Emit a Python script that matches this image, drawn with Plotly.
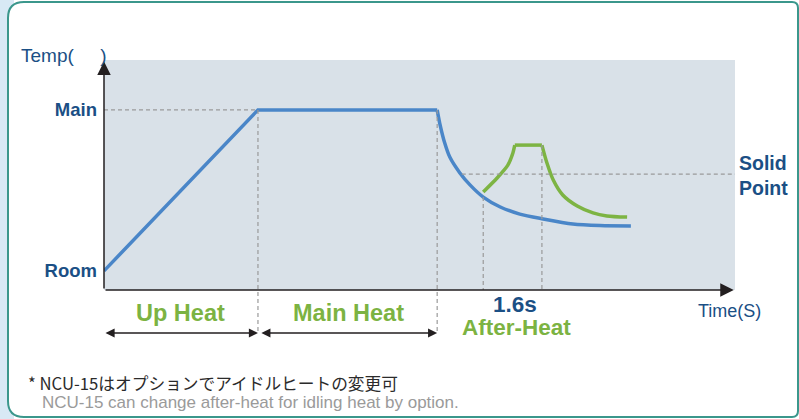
import plotly.graph_objects as go

# ---------------- data (arbitrary units: time 0-100, temperature 0-100) ----------------
ramp_x = [0, 24.4, 52.8]
ramp_y = [8.3, 78.3, 78.3]

cool_x = [52.8, 53.2, 54.0, 54.8, 56.4, 58.0, 60.1, 62.8, 65.9, 69.6, 74.3, 78.6, 83.5]
cool_y = [78.3, 72.6, 63.9, 57.8, 50.9, 45.7, 40.4, 36.1, 33.0, 30.9, 28.7, 28.0, 27.8]

after_rise_x = [60.1, 62.3, 64.0, 64.8, 65.1]
after_rise_y = [42.6, 48.7, 54.3, 59.6, 63.0]
after_flat_x = [65.1, 69.4]
after_flat_y = [63.0, 63.0]
after_fall_x = [69.4, 70.2, 71.2, 72.7, 75.0, 77.5, 79.7, 82.9]
after_fall_y = [63.0, 55.2, 47.8, 41.3, 36.5, 33.5, 32.2, 31.7]

room_level = 8.3
main_level = 78.3
solid_level = 50.4
up_end = 24.4
main_end = 52.8
after_start = 60.1
after_start_y = 40.4
after_peak_end = 69.4
after_peak_y = 63.0
solid_from = 56.7

tick_vals = [room_level, main_level]
tick_text = ["<b>Room</b>", "<b>Main</b>"]

phase_labels = ["Up Heat", "Main Heat"]
phase_centers = [12.2, 38.7]
phase_bounds = [(0, up_end), (up_end + 0.3, main_end)]

# ---------------- styling ----------------
BLUE = "#4a86c8"
GREEN = "#7db443"
TXT_BLUE = "#1b4f85"
GREEN_TXT = "#7cb342"
DASH = "#9a9a9a"
AXIS = "#231f20"
FONT = "Liberation Sans, Arial, sans-serif"

W, H = 799, 419
ML, MR, MT, MB = 104, 64, 60, 0
PX_PER_Y = 230 / 100.0
Y_MIN = -(H - 290) / PX_PER_Y

fig = go.Figure()

line_style = dict(width=3.5)
fig.add_trace(go.Scatter(x=ramp_x, y=ramp_y, mode="lines", line=dict(color=BLUE, **line_style)))
fig.add_trace(go.Scatter(x=cool_x, y=cool_y, mode="lines", line=dict(color=BLUE, shape="spline", smoothing=0.8, **line_style)))
fig.add_trace(go.Scatter(x=after_rise_x, y=after_rise_y, mode="lines", line=dict(color=GREEN, shape="spline", smoothing=0.6, **line_style)))
fig.add_trace(go.Scatter(x=after_flat_x, y=after_flat_y, mode="lines", line=dict(color=GREEN, **line_style)))
fig.add_trace(go.Scatter(x=after_fall_x, y=after_fall_y, mode="lines", line=dict(color=GREEN, shape="spline", smoothing=0.8, **line_style)))

# dashed guide lines
guides = [
    ([0, up_end], [main_level, main_level]),
    ([solid_from, 100], [solid_level, solid_level]),
    ([up_end, up_end], [main_level, -18.3]),
    ([main_end, main_end], [main_level, -18.3]),
    ([after_start, after_start], [after_start_y, 0]),
    ([after_peak_end, after_peak_end], [after_peak_y, 0]),
]
for gx, gy in guides:
    fig.add_trace(go.Scatter(x=gx, y=gy, mode="lines",
                             line=dict(color=DASH, width=1.2, dash="4px,3px")))

# ---------------- decorations (layout) ----------------
def px_x(p):
    return (p - ML) / (W - ML - MR)

def px_y(p):
    return (H - MB - p) / (H - MT - MB)

# rounded frame path
x0, x1, y0, y1, r = 8, 798, 2, 417, 16
rr = 6
path = (
    f"M {px_x(x0)} {px_y(y0 + r)} "
    f"Q {px_x(x0)} {px_y(y0)} {px_x(x0 + r)} {px_y(y0)} "
    f"L {px_x(x1 - rr)} {px_y(y0)} "
    f"Q {px_x(x1)} {px_y(y0)} {px_x(x1)} {px_y(y0 + rr)} "
    f"L {px_x(x1)} {px_y(y1 - rr)} "
    f"Q {px_x(x1)} {px_y(y1)} {px_x(x1 - rr)} {px_y(y1)} "
    f"L {px_x(x0 + r)} {px_y(y1)} "
    f"Q {px_x(x0)} {px_y(y1)} {px_x(x0)} {px_y(y1 - r)} Z"
)

shapes = [
    dict(type="rect", xref="paper", yref="paper", x0=px_x(0), x1=px_x(14), y0=px_y(419), y1=px_y(0),
         fillcolor="#d8e9f5", line=dict(width=0), layer="below"),
    dict(type="path", xref="paper", yref="paper", path=path, fillcolor="white",
         line=dict(color="#3b978c", width=2), layer="below"),
    dict(type="rect", xref="x", yref="y", x0=0, x1=100, y0=0, y1=100,
         fillcolor="#d9e1e8", line=dict(width=0), layer="below"),
]

annotations = []
# axis arrows
annotations.append(dict(x=0, y=99.3, ax=0, ay=0, xref="x", yref="y", axref="x", ayref="y",
                        text="", showarrow=True, arrowhead=2, arrowsize=1.8, arrowwidth=1.5,
                        arrowcolor=AXIS, standoff=0, startstandoff=0))
annotations.append(dict(x=99.8, y=0, ax=0, ay=0, xref="x", yref="y", axref="x", ayref="y",
                        text="", showarrow=True, arrowhead=2, arrowsize=1.8, arrowwidth=1.5,
                        arrowcolor=AXIS, standoff=0, startstandoff=0))
# phase dimension arrows and labels
for lab, cx, (a, b) in zip(phase_labels, phase_centers, phase_bounds):
    annotations.append(dict(x=b, y=-18.7, ax=a, ay=-18.7, xref="x", yref="y", axref="x", ayref="y",
                            text="", showarrow=True, arrowhead=2, arrowside="end+start",
                            arrowsize=1.4, arrowwidth=1.3, arrowcolor=AXIS,
                            standoff=0, startstandoff=0))
    annotations.append(dict(x=cx, y=-10.0, xref="x", yref="y", text=f"<b>{lab}</b>", showarrow=False,
                            font=dict(family=FONT, size=23.5, color=GREEN_TXT)))

annotations += [
    dict(x=65.1, y=-6.5, xref="x", yref="y", text="<b>1.6s</b>", showarrow=False,
         font=dict(family=FONT, size=22.5, color=TXT_BLUE)),
    dict(x=65.3, y=-16.1, xref="x", yref="y", text="<b>After-Heat</b>", showarrow=False,
         font=dict(family=FONT, size=22.5, color=GREEN_TXT)),
    dict(x=99.2, y=-9.1, xref="x", yref="y", text="Time(S)", showarrow=False,
         font=dict(family=FONT, size=18, color=TXT_BLUE)),
    dict(x=px_x(737), y=px_y(175), xref="paper", yref="paper", text="<b>Solid</b><br><b>Point</b>",
         showarrow=False, xanchor="left", yanchor="middle", align="left",
         font=dict(family=FONT, size=19.5, color=TXT_BLUE)),
    dict(x=px_x(19), y=px_y(56), xref="paper", yref="paper", xanchor="left", yanchor="middle",
         text="Temp(\u00a0\u00a0\u00a0\u00a0\u00a0)", showarrow=False,
         font=dict(family=FONT, size=19, color=TXT_BLUE)),
    dict(x=px_x(26), y=px_y(383), xref="paper", yref="paper", xanchor="left", yanchor="middle",
         text="* NCU-15はオプションでアイドルヒートの変更可", showarrow=False,
         font=dict(family="Noto Sans CJK JP, Liberation Sans, sans-serif", size=16.7, color="#2b2b2b")),
    dict(x=px_x(40), y=px_y(402), xref="paper", yref="paper", xanchor="left", yanchor="middle",
         text="NCU-15 can change after-heat for idling heat by option.", showarrow=False,
         font=dict(family=FONT, size=17, color="#9a9a9a")),
]

fig.update_layout(
    width=W, height=H,
    margin=dict(l=ML, r=MR, t=MT, b=MB, pad=0),
    paper_bgcolor="white",
    plot_bgcolor="rgba(0,0,0,0)",
    showlegend=False,
    shapes=shapes,
    annotations=annotations,
    xaxis=dict(range=[0, 100], showgrid=False, zeroline=False, showline=False,
               showticklabels=False, ticks="", fixedrange=True),
    yaxis=dict(range=[Y_MIN, 100], showgrid=False, zeroline=False, showline=False,
               tickvals=tick_vals, ticktext=tick_text, ticks="", ticklabelstandoff=6,
               tickfont=dict(family=FONT, size=18.5, color=TXT_BLUE), fixedrange=True),
)

fig.write_html("out.html", config={"displayModeBar": False},
               post_script="document.body.style.margin='0px';")
